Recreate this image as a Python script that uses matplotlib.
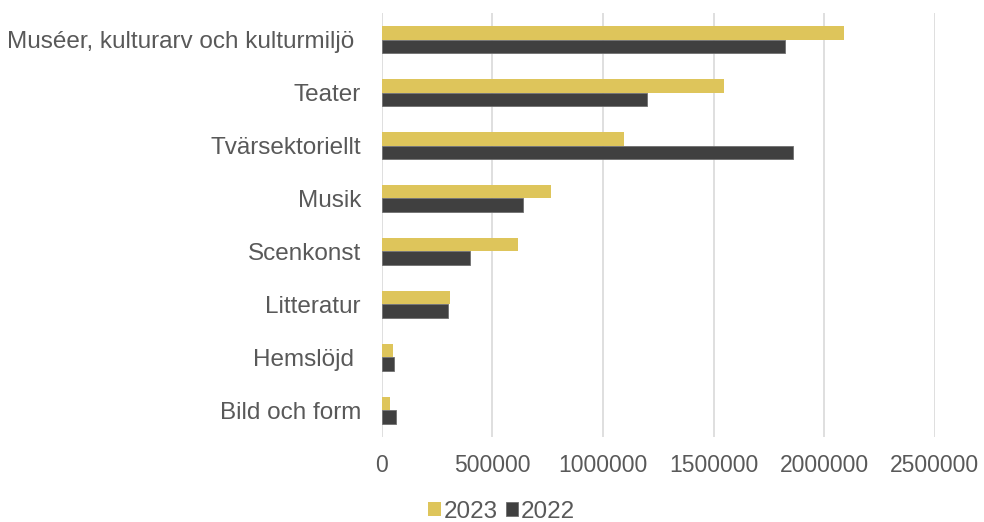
import matplotlib
matplotlib.use("Agg")
from matplotlib import pyplot as plt
import numpy as np

plt.rcParams['font.family'] = ['Liberation Sans', 'DejaVu Sans']

categories = ['Muséer, kulturarv och kulturmiljö ', 'Teater', 'Tvärsektoriellt', 'Musik',
              'Scenkonst', 'Litteratur', 'Hemslöjd ', 'Bild och form']
v2023 = [2090000, 1548000, 1094000, 765000, 615000, 310000, 52000, 36000]
v2022 = [1822000, 1199000, 1861000, 640000, 399000, 298000, 54000, 63000]
xticks = [0, 500000, 1000000, 1500000, 2000000, 2500000]

gold = '#DEC55B'
dark = '#404040'
txt = '#595959'
fs = 17.5

fig = plt.figure(figsize=(9.84, 5.22), dpi=100)
ax = fig.add_axes([0.388, 0.163, 0.562, 0.812])

y = np.arange(len(categories))
h = 0.258
ax.barh(y - h / 2, v2023, height=h, color=gold, label='2023', zorder=3)
ax.barh(y + h / 2, v2022, height=h, color=dark, edgecolor='#707070', linewidth=0.6,
        label='2022', zorder=3)

ax.set_ylim(len(categories) - 0.5, -0.5)
ax.set_xlim(0, 2500000)
ax.set_yticks(y)
ax.set_yticklabels(categories, fontsize=fs, color=txt)
ax.set_xticks(xticks)
ax.set_xticklabels([str(t) for t in xticks], fontsize=16.5, color=txt)
ax.tick_params(axis='y', length=0, pad=15)
ax.tick_params(axis='x', length=0, pad=12)

ax.grid(axis='x', color='#D9D9D9', linewidth=1.2, zorder=0)
for s in ax.spines.values():
    s.set_visible(False)

fig.legend(loc='center', bbox_to_anchor=(0.51, 0.02), ncol=2, frameon=False,
           fontsize=fs, labelcolor=txt, handlelength=0.5, handleheight=0.5,
           handletextpad=0.12, columnspacing=0.35)

plt.savefig('out.png')
